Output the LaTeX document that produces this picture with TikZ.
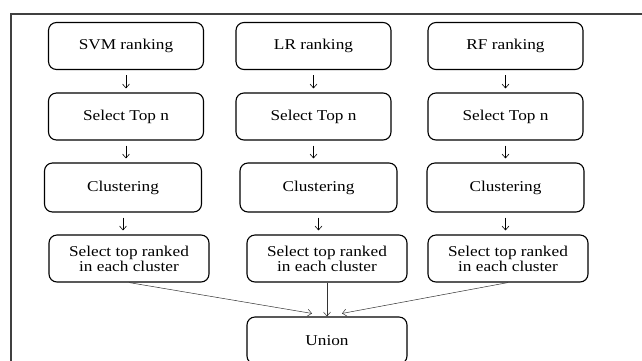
\documentclass[tikz,border=0pt]{standalone}
\usepackage{fontspec}
\setmainfont{Liberation Serif}[FakeStretch=1.15]
\usepackage{tikz}
\usetikzlibrary{arrows.meta, positioning, calc}
\tikzset{
	stagebox/.style={draw, line width=1.1pt, rounded corners=8pt, align=center,
		minimum height=47pt, inner sep=2pt, font=\fontsize{15}{15}\selectfont}
}
\tikzset{
	steparrow/.style={-{Straight Barb[length=4pt,width=7pt]}, line width=0.6pt,
		shorten <=5pt, shorten >=4pt}
}
\tikzset{
	mergearrow/.style={-{Straight Barb[length=4pt,width=7pt]}, line width=0.5pt, black!80}
}

\begin{document}
\begin{tikzpicture}[x=1pt, y=-1pt]
  \useasboundingbox (0,0) rectangle (642,360);
  % frame around the pipeline
  \draw[line width=1.3pt, black!75] (11,362) -- (11,14) -- (644,14);

  % one column per ranking method
  \foreach \c/\r/\xa/\xb/\xc/\xd in {1/SVM/126/126/123/129, 2/LR/313.5/313.5/318.5/327, 3/RF/505.5/505.5/505.5/508} {
    \node[stagebox, minimum width=155pt] (rank\c) at (\xa,46) {\r{} ranking};
    \node[stagebox, minimum width=155pt] (top\c) at (\xb,116.5) {Select Top n};
    \node[stagebox, minimum width=157pt, minimum height=49pt] (clu\c) at (\xc,187.5) {Clustering};
    \node[stagebox, minimum width=160pt] (sel\c) at (\xd,258.5) {Select top ranked\\in each cluster};
  }
  \node[stagebox, minimum width=160pt] (union) at (327,340.5) {Union};

  \foreach \c in {1,2,3} {
    \draw[steparrow] (rank\c.south) -- (rank\c.south |- top\c.north);
    \draw[steparrow] (top\c.south) -- (top\c.south |- clu\c.north);
    \draw[steparrow] (clu\c.south) -- (clu\c.south |- sel\c.north);
  }

  % everything meets in the union
  \draw[mergearrow] (sel1.south) -- ([xshift=-15pt, yshift=3pt]union.north);
  \draw[mergearrow] (sel2.south) -- (union.north);
  \draw[mergearrow] (sel3.south) -- ([xshift=15pt, yshift=3pt]union.north);
\end{tikzpicture}
\end{document}
